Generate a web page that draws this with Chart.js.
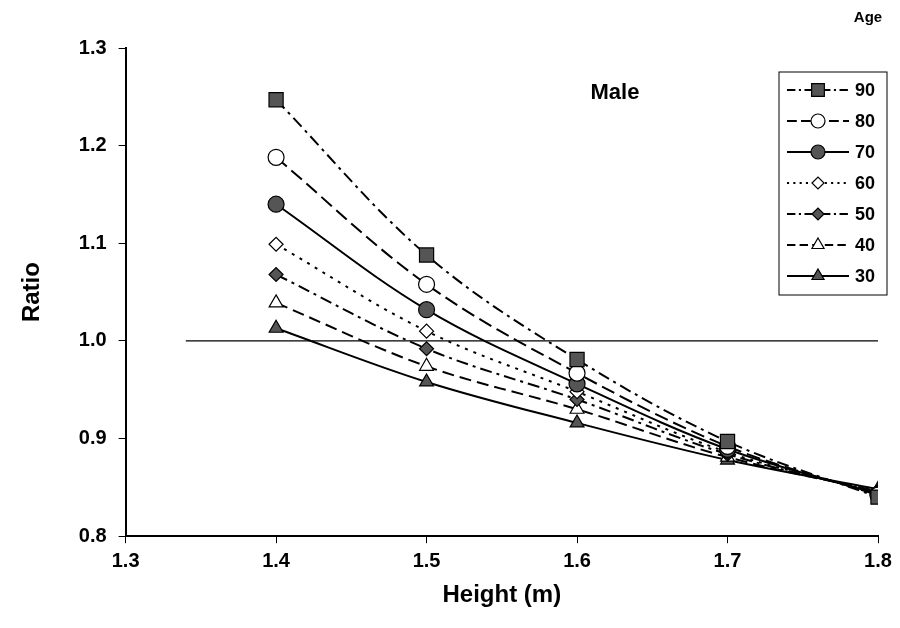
<!DOCTYPE html>
<html>
<head>
<meta charset="utf-8">
<script src="https://cdn.jsdelivr.net/npm/chart.js@4"></script>
<style>
  body { margin: 0; background: #fff; }
  #wrap { width: 900px; height: 628px; position: relative; }
</style>
</head>
<body>
<div id="wrap"><canvas id="ratioChart"></canvas></div>
<script>
const heights = [1.4, 1.5, 1.6, 1.7, 1.8];
const ages = ['90', '80', '70', '60', '50', '40', '30'];
const ratios = {
    '90': [1.247, 1.088, 0.981, 0.897, 0.840],
    '80': [1.188, 1.058, 0.967, 0.892, 0.842],
    '70': [1.140, 1.032, 0.956, 0.889, 0.843],
    '60': [1.099, 1.010, 0.948, 0.886, 0.844],
    '50': [1.068, 0.992, 0.940, 0.884, 0.845],
    '40': [1.039, 0.974, 0.930, 0.881, 0.846],
    '30': [1.013, 0.958, 0.916, 0.878, 0.848]
};
const refX = [1.34, 1.8];
const refY = [1.0, 1.0];
const xTicks = [1.3, 1.4, 1.5, 1.6, 1.7, 1.8];
const yTicks = [0.8, 0.9, 1.0, 1.1, 1.2, 1.3];

// per-age look: marker, fill, dash
const styles = {
    '90': { point: 'rect', fill: '#555', dash: [12, 5, 3, 5] },
    '80': { point: 'circle', fill: '#fff', dash: [14, 6] },
    '70': { point: 'circle', fill: '#555', dash: [] },
    '60': { point: 'rectRot', fill: '#fff', dash: [3, 6] },
    '50': { point: 'rectRot', fill: '#555', dash: [12, 5, 3, 5] },
    '40': { point: 'triangle', fill: '#fff', dash: [12, 6] },
    '30': { point: 'triangle', fill: '#555', dash: [] }
};
const radii = { rect: 10, circle: 8, rectRot: 7, triangle: 8 };

const datasets = ages.map(a => ({
    label: a,
    data: heights.map((h, i) => ({ x: h, y: ratios[a][i] })),
    showLine: true,
    borderColor: '#000',
    borderWidth: 2,
    borderDash: styles[a].dash,
    tension: 0.35,
    pointStyle: styles[a].point,
    pointRadius: radii[styles[a].point],
    pointBackgroundColor: styles[a].fill,
    pointBorderColor: '#000',
    pointBorderWidth: 1.2
}));
datasets.push({
    label: 'ref',
    data: refX.map((x, i) => ({ x: x, y: refY[i] })),
    showLine: true,
    borderColor: '#000',
    borderWidth: 1.2,
    pointRadius: 0
});

const labelFont = { family: 'Liberation Sans, Arial', size: 20, weight: 'bold' };
const titleFont = { family: 'Liberation Sans, Arial', size: 24, weight: 'bold' };

// legend box + titles drawn inside the chart
const extras = {
    id: 'extras',
    afterDraw(chart) {
        const c = chart.ctx;
        c.save();
        c.fillStyle = '#000';
        c.font = 'bold 22px Liberation Sans, Arial';
        c.textAlign = 'center';
        c.textBaseline = 'middle';
        c.fillText('Male', 615, 93);
        c.font = 'bold 15px Liberation Sans, Arial';
        c.fillText('Age', 868, 18);

        const bx = 779, by = 72, bw = 108, bh = 223;
        c.strokeStyle = '#000';
        c.lineWidth = 1;
        c.setLineDash([]);
        c.strokeRect(bx, by, bw, bh);
        ages.forEach((a, i) => {
            const yy = by + 18 + i * 31;
            const s = styles[a];
            c.beginPath();
            c.setLineDash(s.dash.length ? s.dash.map(d => d * 0.7) : []);
            c.lineWidth = 2;
            c.moveTo(bx + 8, yy);
            c.lineTo(bx + 70, yy);
            c.stroke();
            c.setLineDash([]);
            c.fillStyle = s.fill;
            c.lineWidth = 1.2;
            Chart.helpers.drawPoint(c, { pointStyle: s.point, radius: radii[s.point] - 1, rotation: 0, borderWidth: 1.2 }, bx + 39, yy);
            c.fillStyle = '#000';
            c.font = 'bold 18px Liberation Sans, Arial';
            c.textAlign = 'left';
            c.fillText(a, bx + 76, yy + 1);
        });
        c.restore();
    }
};

new Chart(document.getElementById('ratioChart'), {
    type: 'scatter',
    data: { datasets: datasets },
    options: {
        responsive: true,
        maintainAspectRatio: false,
        animation: false,
        layout: { padding: { top: 48, right: 22, left: 14, bottom: 14 } },
        plugins: { legend: { display: false }, tooltip: { enabled: false } },
        scales: {
            x: {
                type: 'linear',
                min: 1.3, max: 1.8,
                afterBuildTicks: ax => { ax.ticks = xTicks.map(v => ({ value: v })); },
                ticks: { color: '#000', font: labelFont, callback: v => v.toFixed(1), padding: 6 },
                grid: { display: true, drawOnChartArea: false, color: '#000', tickLength: 7, tickColor: '#000' },
                border: { color: '#000', width: 2 },
                title: { display: true, text: 'Height (m)', color: '#000', font: titleFont, padding: { top: 2 } }
            },
            y: {
                min: 0.8, max: 1.3,
                afterBuildTicks: ax => { ax.ticks = yTicks.map(v => ({ value: v })); },
                ticks: { color: '#000', font: labelFont, callback: v => v.toFixed(1), padding: 12 },
                grid: { display: true, drawOnChartArea: false, color: '#000', tickLength: 7, tickColor: '#000' },
                border: { color: '#000', width: 2 },
                title: { display: true, text: 'Ratio', color: '#000', font: titleFont, padding: { bottom: 20 } }
            }
        }
    },
    plugins: [extras]
});
</script>
</body>
</html>
